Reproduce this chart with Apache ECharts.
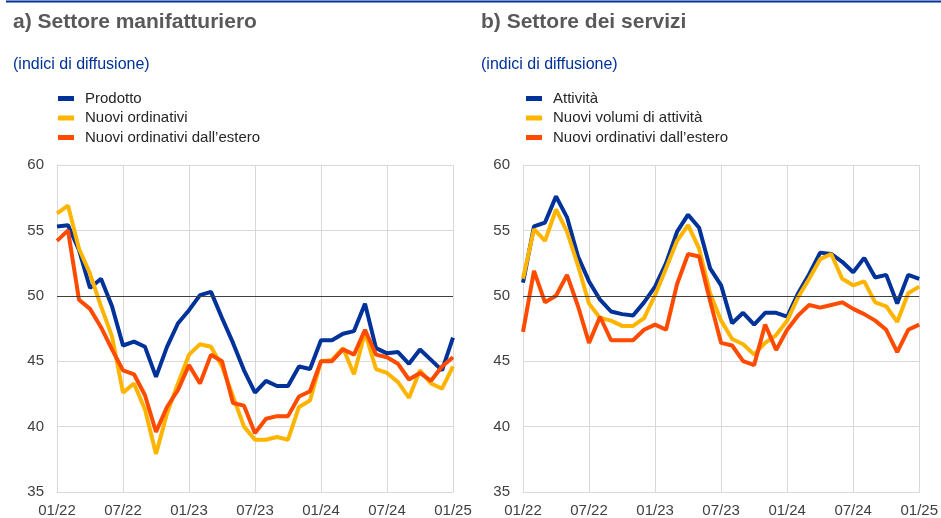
<!DOCTYPE html>
<html lang="it">
<head>
  <meta charset="UTF-8">
  <title>Indici di diffusione</title>
  <script src="https://cdn.jsdelivr.net/npm/echarts@6/dist/echarts.min.js"></script>
  <style>
    body { margin: 0; background: #fff; }
    #main { width: 941px; height: 518px; }
  </style>
</head>
<body>
  <div id="main"></div>
  <script>
    // mesi 01/22 - 01/25
    var mesi = [
      '01/22','02/22','03/22','04/22','05/22','06/22','07/22','08/22','09/22','10/22','11/22','12/22',
      '01/23','02/23','03/23','04/23','05/23','06/23','07/23','08/23','09/23','10/23','11/23','12/23',
      '01/24','02/24','03/24','04/24','05/24','06/24','07/24','08/24','09/24','10/24','11/24','12/24',
      '01/25'
    ];

    // a) settore manifatturiero
    var prodotto = [55.3, 55.4, 53.5, 50.6, 51.3, 49.2, 46.2, 46.5, 46.1, 43.8, 46.1, 47.9,
      48.9, 50.05, 50.3, 48.3, 46.4, 44.3, 42.6, 43.5, 43.1, 43.1, 44.6, 44.4,
      46.6, 46.6, 47.1, 47.3, 49.4, 46.0, 45.6, 45.7, 44.8, 45.9, 45.1, 44.3, 46.8];
    var nuoviOrdinativi = [56.3, 56.9, 53.6, 51.7, 49.2, 46.9, 42.6, 43.3, 41.3, 37.9, 41.0, 43.3,
      45.5, 46.3, 46.1, 44.6, 42.3, 40.0, 39.0, 39.0, 39.2, 39.0, 41.5, 42.0,
      45.0, 45.1, 46.0, 44.0, 47.2, 44.4, 44.1, 43.4, 42.2, 44.3, 43.3, 42.9, 44.6];
    var ordiniEsteroMan = [54.2, 55.0, 49.7, 49.0, 47.6, 45.9, 44.3, 44.0, 42.4, 39.6, 41.5, 42.8,
      44.7, 43.3, 45.5, 45.0, 41.8, 41.6, 39.5, 40.6, 40.8, 40.8, 42.3, 42.7,
      45.0, 45.0, 45.9, 45.5, 47.4, 45.5, 45.3, 44.8, 43.6, 44.1, 43.5, 44.6, 45.3];

    // b) settore dei servizi
    var attivita = [51.0, 55.3, 55.6, 57.6, 56.0, 53.0, 51.1, 49.7, 48.8, 48.6, 48.5, 49.5,
      50.7, 52.5, 54.9, 56.2, 55.2, 52.1, 50.8, 47.9, 48.7, 47.8, 48.7, 48.7,
      48.4, 50.2, 51.65, 53.3, 53.2, 52.6, 51.8, 52.9, 51.4, 51.6, 49.4, 51.6, 51.3];
    var nuoviVolumi = [51.3, 55.1, 54.2, 56.6, 54.9, 52.3, 49.4, 48.3, 48.1, 47.7, 47.7, 48.3,
      50.05, 52.1, 54.2, 55.4, 53.6, 50.2, 48.1, 46.7, 46.3, 45.5, 46.4, 47.0,
      48.1, 49.9, 51.3, 52.8, 53.2, 51.3, 50.8, 51.1, 49.5, 49.2, 48.0, 50.2, 50.7];
    var ordiniEsteroServ = [47.25, 51.9, 49.5, 50.0, 51.6, 49.2, 46.4, 48.4, 46.6, 46.6, 46.6, 47.4,
      47.8, 47.4, 50.9, 53.2, 53.0, 49.6, 46.4, 46.2, 45.0, 44.7, 47.8, 45.85,
      47.4, 48.5, 49.3, 49.1, 49.3, 49.5, 49.0, 48.6, 48.1, 47.4, 45.7, 47.4, 47.8];

    var yTicks = { min: 35, max: 60, interval: 5 };

    var font = "'Liberation Sans', Arial, sans-serif";
    var grigio = '#d9d9d9';
    var blu = '#003299', giallo = '#ffb400', arancio = '#ff4b00';

    var myChart = echarts.init(document.getElementById('main'));

    function asseX(idx) {
      return {
        type: 'category', gridIndex: idx, data: mesi, boundaryGap: false,
        axisTick: { show: false },
        axisLine: { lineStyle: { color: grigio, width: 1 } },
        axisLabel: { interval: 5, fontSize: 15, color: '#404040', fontFamily: font, margin: 11 },
        splitLine: { show: true, interval: 5, lineStyle: { color: grigio, width: 1 } }
      };
    }
    function asseY(idx) {
      return {
        type: 'value', gridIndex: idx, min: yTicks.min, max: yTicks.max, interval: yTicks.interval,
        axisTick: { show: false },
        axisLine: { show: true, lineStyle: { color: grigio, width: 1 } },
        axisLabel: { fontSize: 15, color: '#404040', fontFamily: font, margin: 13 },
        splitLine: { lineStyle: { color: grigio, width: 1 } }
      };
    }
    function linea(nome, dati, colore, idx, conLinea50) {
      var s = {
        name: nome, type: 'line', xAxisIndex: idx, yAxisIndex: idx, data: dati,
        symbol: 'none', lineStyle: { color: colore, width: 4 }, itemStyle: { color: colore }
      };
      if (conLinea50) {
        s.markLine = {
          silent: true, symbol: ['none', 'none'], label: { show: false },
          lineStyle: { color: '#404040', width: 1, type: 'solid' },
          data: [{ yAxis: 50 }]
        };
      }
      return s;
    }
    function legenda(x, nomi) {
      return {
        orient: 'vertical', left: x, top: 91, padding: 0, itemGap: 4.5,
        itemWidth: 16, itemHeight: 5, icon: 'rect',
        textStyle: { fontSize: 15, color: '#262626', fontFamily: font, lineHeight: 15, padding: [0, 0, 0, 6] },
        data: nomi
      };
    }

    var option = {
      animation: false,
      title: [
        { text: 'a) Settore manifatturiero', left: 13, top: 12, padding: 0,
          textStyle: { fontSize: 21, fontWeight: 'bold', color: '#595959', fontFamily: font } },
        { text: '(indici di diffusione)', left: 13, top: 57, padding: 0,
          textStyle: { fontSize: 16, fontWeight: 'normal', color: blu, fontFamily: font } },
        { text: 'b) Settore dei servizi', left: 481, top: 12, padding: 0,
          textStyle: { fontSize: 21, fontWeight: 'bold', color: '#595959', fontFamily: font } },
        { text: '(indici di diffusione)', left: 481, top: 57, padding: 0,
          textStyle: { fontSize: 16, fontWeight: 'normal', color: blu, fontFamily: font } }
      ],
      graphic: [
        { type: 'rect', shape: { x: 6, y: 0.5, width: 935, height: 2 }, style: { fill: blu } }
      ],
      legend: [
        legenda(58, ['Prodotto', 'Nuovi ordinativi', 'Nuovi ordinativi dall\u2019estero']),
        legenda(526, ['Attività', 'Nuovi volumi di attività', 'Nuovi ordinativi dall\u2019estero '])
      ],
      grid: [
        { left: 57, right: 488, top: 165, bottom: 25 },
        { left: 523, right: 20, top: 165, bottom: 25 }
      ],
      xAxis: [asseX(0), asseX(1)],
      yAxis: [asseY(0), asseY(1)],
      series: [
        linea('Prodotto', prodotto, blu, 0, true),
        linea('Nuovi ordinativi', nuoviOrdinativi, giallo, 0, false),
        linea('Nuovi ordinativi dall\u2019estero', ordiniEsteroMan, arancio, 0, false),
        linea('Attività', attivita, blu, 1, true),
        linea('Nuovi volumi di attività', nuoviVolumi, giallo, 1, false),
        linea('Nuovi ordinativi dall\u2019estero ', ordiniEsteroServ, arancio, 1, false)
      ]
    };

    myChart.setOption(option);
  </script>
</body>
</html>
